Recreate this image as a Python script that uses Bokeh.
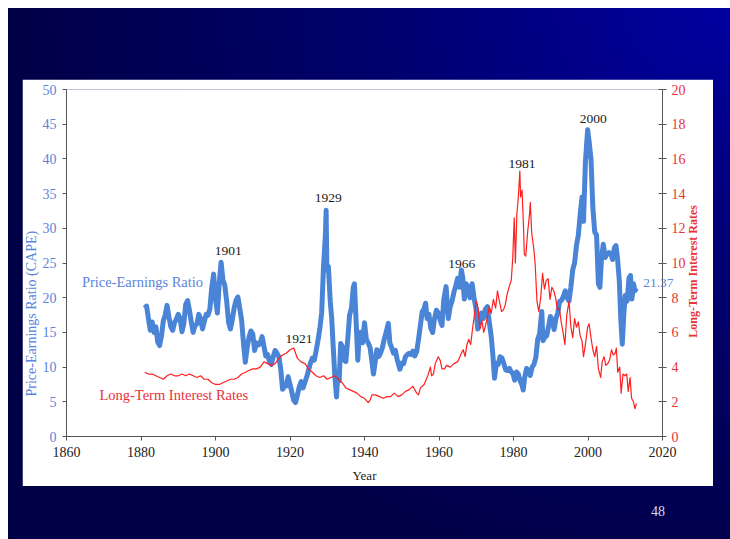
from math import pi
from bokeh.plotting import figure
from bokeh.models import Range1d, LinearAxis, FixedTicker, Label, Div, ColumnDataSource
from bokeh.layouts import column
from bokeh.embed import file_html
from bokeh.resources import INLINE

# ---------------- data ----------------
year_ticks = [1860, 1880, 1900, 1920, 1940, 1960, 1980, 2000, 2020]
pe_ticks = [0, 5, 10, 15, 20, 25, 30, 35, 40, 45, 50]
rate_ticks = [0, 2, 4, 6, 8, 10, 12, 14, 16, 18, 20]

cape_years = [
    1881.0, 1881.5, 1882.0, 1882.5, 1883.0, 1883.5, 1884.0, 1884.5, 1885.0, 1885.5,
    1886.0, 1886.5, 1887.0, 1887.5, 1888.0, 1888.5, 1889.0, 1889.5, 1890.0, 1890.5,
    1891.0, 1891.5, 1892.0, 1892.5, 1893.0, 1893.5, 1894.0, 1894.5, 1895.0, 1895.5,
    1896.0, 1896.5, 1897.0, 1897.5, 1898.0, 1898.5, 1899.0, 1899.5, 1900.0, 1900.5,
    1901.0, 1901.5, 1902.0, 1902.5, 1903.0, 1903.5, 1904.0, 1904.5, 1905.0, 1905.5,
    1906.0, 1906.5, 1907.0, 1907.5, 1908.0, 1908.5, 1909.0, 1909.5, 1910.0, 1910.5,
    1911.0, 1911.5, 1912.0, 1912.5, 1913.0, 1913.5, 1914.0, 1914.5, 1915.0, 1915.5,
    1916.0, 1916.5, 1917.0, 1917.5, 1918.0, 1918.5, 1919.0, 1919.5, 1920.0, 1920.5,
    1921.0, 1921.5, 1922.0, 1922.5, 1923.0, 1923.5, 1924.0, 1924.5, 1925.0, 1925.5,
    1926.0, 1926.5, 1927.0, 1927.5, 1928.0, 1928.5, 1929.0, 1929.5, 1929.7, 1929.9,
    1930.3, 1930.8, 1931.2, 1931.6, 1932.0, 1932.5, 1932.8, 1933.2, 1933.6, 1934.0,
    1934.5, 1935.0, 1935.5, 1936.0, 1936.5, 1937.0, 1937.3, 1937.8, 1938.2, 1938.6,
    1939.0, 1939.5, 1940.0, 1940.5, 1941.0, 1941.5, 1942.0, 1942.4, 1942.8, 1943.3,
    1943.8, 1944.3, 1944.8, 1945.3, 1945.8, 1946.4, 1946.8, 1947.3, 1947.8, 1948.3,
    1948.8, 1949.5, 1950.0, 1950.5, 1951.0, 1951.5, 1952.0, 1952.5, 1953.0, 1953.5,
    1954.0, 1954.5, 1955.0, 1955.5, 1956.0, 1956.4, 1956.8, 1957.3, 1957.8, 1958.3,
    1958.8, 1959.3, 1959.8, 1960.3, 1960.8, 1961.3, 1961.9, 1962.5, 1963.0, 1963.5,
    1964.0, 1964.5, 1965.0, 1965.5, 1966.0, 1966.4, 1966.8, 1967.3, 1967.8, 1968.3,
    1968.9, 1969.4, 1969.9, 1970.4, 1970.9, 1971.4, 1971.9, 1972.5, 1973.0, 1973.5,
    1974.0, 1974.5, 1974.9, 1975.4, 1975.9, 1976.4, 1976.9, 1977.4, 1977.9, 1978.4,
    1978.9, 1979.4, 1979.9, 1980.3, 1980.8, 1981.3, 1981.8, 1982.3, 1982.6, 1983.0,
    1983.5, 1984.0, 1984.5, 1985.0, 1985.5, 1986.0, 1986.5, 1987.0, 1987.6, 1987.9,
    1988.4, 1988.9, 1989.4, 1989.9, 1990.4, 1990.9, 1991.4, 1991.9, 1992.4, 1992.9,
    1993.4, 1993.9, 1994.4, 1994.9, 1995.4, 1995.9, 1996.4, 1996.9, 1997.4, 1997.9,
    1998.4, 1998.8, 1999.3, 1999.9, 2000.3, 2000.8, 2001.3, 2001.8, 2002.3, 2002.8,
    2003.2, 2003.6, 2004.1, 2004.6, 2005.1, 2005.6, 2006.1, 2006.6, 2007.1, 2007.5,
    2007.9, 2008.4, 2008.8, 2009.2, 2009.6, 2010.0, 2010.5, 2011.0, 2011.4, 2011.8,
    2012.2, 2012.6, 2013.0,
]
cape_values = [
    18.5, 18.8, 17.0, 15.3, 16.5, 15.0, 15.8, 13.6, 13.1, 14.5,
    16.7, 17.5, 18.9, 17.2, 15.8, 15.3, 16.4, 16.9, 17.6, 17.0,
    15.1, 16.3, 19.0, 19.6, 18.2, 16.5, 15.0, 16.0, 16.2, 17.6,
    17.0, 15.5, 16.6, 17.6, 17.5, 18.4, 21.5, 23.4, 19.8, 17.8,
    22.0, 25.1, 22.5, 21.8, 19.5, 16.5, 15.5, 16.8, 18.5, 19.6,
    20.1, 18.5, 16.8, 13.5, 10.7, 12.8, 14.3, 15.2, 14.8, 12.4,
    13.5, 13.2, 13.4, 14.4, 13.0, 11.6, 11.8, 10.8, 10.4, 11.5,
    12.4, 12.0, 11.5, 9.8, 6.8, 7.2, 7.3, 8.6, 7.5, 6.4,
    5.2, 4.9, 6.0, 7.2, 7.9, 7.0, 7.8, 8.6, 9.6, 10.6,
    11.3, 11.0, 12.3, 13.8, 15.5, 17.8, 24.5, 29.0, 32.6, 24.0,
    24.5, 19.5, 17.0, 13.0, 9.0, 5.7, 9.0, 8.0, 13.4, 13.0,
    11.0, 10.8, 14.0, 17.5, 18.5, 21.5, 22.0, 16.0, 11.0, 14.5,
    15.0, 13.5, 16.4, 14.0, 13.5, 12.8, 10.8, 9.0, 10.5, 12.5,
    11.5, 12.0, 12.8, 14.0, 15.0, 16.3, 13.5, 12.8, 12.0, 12.4,
    11.0, 9.7, 10.6, 10.5, 11.5, 11.8, 12.0, 11.8, 12.3, 11.6,
    12.2, 14.0, 16.0, 18.0, 18.4, 19.2, 17.0, 17.6, 15.6, 15.0,
    17.0, 18.2, 17.8, 16.8, 16.0, 19.8, 21.6, 17.0, 18.7, 19.5,
    20.8, 21.7, 22.8, 21.5, 24.0, 22.8, 19.8, 22.0, 21.5, 20.0,
    22.0, 20.0, 18.5, 15.5, 16.8, 17.8, 17.0, 18.4, 18.7, 16.5,
    14.5, 11.5, 8.4, 10.5, 10.4, 11.5, 11.3, 10.5, 9.6, 9.5,
    9.8, 9.3, 9.0, 8.1, 9.3, 9.0, 8.0, 7.4, 6.7, 8.5,
    9.8, 9.4, 8.8, 10.0, 10.4, 11.4, 14.0, 14.8, 18.0, 13.8,
    14.3, 14.5, 15.8, 17.3, 16.8, 15.4, 17.0, 17.8, 19.5, 19.6,
    20.2, 21.0, 20.0, 19.5, 21.5, 24.0, 25.0, 27.5, 29.0, 32.0,
    34.5, 31.0, 39.5, 44.2, 42.5, 40.0, 33.0, 29.5, 29.0, 22.0,
    21.5, 25.5, 27.7, 25.8, 26.3, 26.5, 26.4, 25.5, 27.2, 27.5,
    25.8, 22.5, 17.0, 13.3, 17.5, 20.3, 19.5, 22.8, 23.2, 19.8,
    22.0, 21.0, 21.37,
]

rate_years = [
    1881, 1882, 1883, 1884, 1885, 1886, 1887, 1888, 1889, 1890,
    1891, 1892, 1893, 1894, 1895, 1896, 1897, 1898, 1899, 1900,
    1901, 1902, 1903, 1904, 1905, 1906, 1907, 1908, 1909, 1910,
    1911, 1912, 1913, 1914, 1915, 1916, 1917, 1918, 1919, 1920,
    1921, 1922, 1923, 1924, 1925, 1926, 1927, 1928, 1929, 1930,
    1931, 1932, 1933, 1934, 1935, 1936, 1937, 1938, 1939, 1940,
    1941, 1941.5, 1942, 1943, 1944, 1945, 1946, 1947, 1948, 1949,
    1950, 1951, 1952, 1953, 1954, 1954.5, 1955, 1956, 1957, 1957.7,
    1958, 1958.5, 1959, 1959.8, 1960.3, 1960.8, 1961.5, 1962, 1963, 1964,
    1965, 1966, 1966.5, 1967, 1967.5, 1968, 1968.5, 1969, 1969.7, 1970,
    1970.5, 1971, 1971.5, 1972, 1972.5, 1973, 1973.5, 1974, 1974.6, 1975.2,
    1975.7, 1976.2, 1976.8, 1977.3, 1977.8, 1978.3, 1978.8, 1979.4, 1979.8, 1980.2,
    1980.5, 1980.9, 1981.3, 1981.7, 1981.9, 1982.3, 1982.7, 1982.9, 1983.3, 1983.8,
    1984.3, 1984.5, 1984.9, 1985.4, 1985.8, 1986.3, 1986.8, 1987.3, 1987.8, 1988.3,
    1988.8, 1989.3, 1989.8, 1990.3, 1990.8, 1991.3, 1991.8, 1992.3, 1992.8, 1993.3,
    1993.8, 1994.3, 1994.9, 1995.4, 1995.9, 1996.4, 1996.9, 1997.4, 1997.9, 1998.4,
    1998.8, 1999.3, 1999.9, 2000.3, 2000.8, 2001.3, 2001.8, 2002.3, 2002.8, 2003.4,
    2003.8, 2004.3, 2004.8, 2005.3, 2005.8, 2006.3, 2006.8, 2007.3, 2007.6, 2008.0,
    2008.5, 2008.9, 2009.4, 2009.9, 2010.4, 2010.8, 2011.3, 2011.7, 2012.2, 2012.6,
    2013.0,
]
rate_values = [
    3.7, 3.6, 3.6, 3.5, 3.4, 3.3, 3.5, 3.6, 3.5, 3.5,
    3.6, 3.5, 3.6, 3.5, 3.4, 3.5, 3.3, 3.3, 3.1, 3.0,
    3.0, 3.1, 3.2, 3.3, 3.3, 3.4, 3.6, 3.7, 3.8, 3.9,
    3.9, 4.0, 4.3, 4.2, 4.1, 4.2, 4.5, 4.7, 4.8, 5.0,
    5.1, 4.5, 4.3, 4.2, 3.9, 3.7, 3.5, 3.4, 3.5, 3.3,
    3.4, 3.5, 3.3, 3.1, 2.8, 2.7, 2.6, 2.5, 2.3, 2.2,
    1.95, 2.1, 2.4, 2.4, 2.3, 2.2, 2.3, 2.3, 2.5, 2.3,
    2.4, 2.6, 2.7, 2.9, 2.5, 2.4, 2.8, 3.0, 3.5, 4.0,
    3.5, 3.6, 4.2, 4.6, 4.4, 3.9, 3.9, 4.1, 4.0, 4.2,
    4.3, 4.8, 5.0, 4.6, 5.3, 5.6, 5.3, 6.2, 7.3, 7.8,
    7.4, 6.2, 6.7, 6.0, 6.4, 6.9, 7.5, 7.1, 7.9, 7.4,
    8.4, 7.8, 7.2, 7.3, 7.6, 8.2, 8.6, 9.0, 10.3, 12.6,
    10.0, 12.8, 13.8, 15.3, 13.8, 14.2, 12.0, 10.5, 10.4, 11.8,
    12.8, 13.5, 11.7, 10.9, 10.0, 7.8, 7.2, 8.0, 9.4, 8.5,
    9.0, 9.1, 7.9, 8.6, 8.4, 8.0, 7.3, 7.4, 6.6, 6.0,
    5.3, 7.0, 7.8, 6.3, 5.7, 6.8, 6.3, 6.6, 5.8, 5.5,
    4.6, 5.3, 6.3, 6.5, 5.7, 5.0, 4.6, 5.2, 3.9, 3.4,
    4.3, 4.6, 4.1, 4.2, 4.4, 5.0, 4.7, 4.8, 5.1, 3.7,
    4.0, 2.5, 3.6, 3.5, 3.6, 2.6, 3.4, 2.2, 2.0, 1.6,
    1.9,
]

BLUE = "#4a84d6"
BLUE_TXT = "#5a84dc"
RED = "#ff1f1f"
RED_TXT = "#e8313a"
FONT = "Liberation Serif"

# ---------------- figure ----------------
p = figure(width=691, height=407, x_range=Range1d(1860, 2020), y_range=Range1d(0, 50),
           output_backend="svg", toolbar_location=None,
           min_border_left=44, min_border_right=51, min_border_top=10, min_border_bottom=50,
           background_fill_color="white", border_fill_color="white",
           margin=(71, 0, 0, 14))
p.extra_y_ranges = {"rate": Range1d(0, 20)}
p.grid.visible = False
p.outline_line_color = None

# x axis
xa = p.xaxis[0]
xa.ticker = FixedTicker(ticks=year_ticks)
xa.minor_tick_line_color = None
xa.major_tick_in = 0
xa.major_tick_out = 4
xa.axis_line_color = "#555555"
xa.major_tick_line_color = "#555555"
xa.major_label_text_font = FONT
xa.major_label_text_font_size = "14px"
xa.major_label_text_color = "#222222"
xa.major_label_standoff = 6
xa.axis_label = "Year"
xa.axis_label_text_font = FONT
xa.axis_label_text_font_style = "normal"
xa.axis_label_text_font_size = "13px"
xa.axis_label_text_color = "#222222"
xa.axis_label_standoff = 8

# left axis
ya = p.left[0]
ya.ticker = FixedTicker(ticks=pe_ticks)
ya.minor_tick_line_color = None
ya.major_tick_in = 0
ya.major_tick_out = 4
ya.axis_line_color = "#555555"
ya.major_tick_line_color = "#555555"
ya.major_label_text_font = FONT
ya.major_label_text_font_size = "14px"
ya.major_label_text_color = BLUE_TXT
ya.major_label_standoff = 6

# right axis
ra = LinearAxis(y_range_name="rate", ticker=FixedTicker(ticks=rate_ticks))
ra.minor_tick_line_color = None
ra.major_tick_in = 4
ra.major_tick_out = 4
ra.axis_line_color = "#555555"
ra.major_tick_line_color = "#555555"
ra.major_label_text_font = FONT
ra.major_label_text_font_size = "14px"
ra.major_label_text_color = RED_TXT
ra.major_label_standoff = 5
p.add_layout(ra, "right")

# series
cape_src = ColumnDataSource(dict(x=cape_years, y=cape_values))
rate_src = ColumnDataSource(dict(x=rate_years, y=rate_values))
p.line("x", "y", source=cape_src, line_color=BLUE, line_width=5, line_join="round")
p.line("x", "y", source=rate_src, line_color=RED, line_width=1.2, line_join="round",
       y_range_name="rate")

# axis titles and end value: labels held in side panels so they are not clipped
p.add_layout(Label(x=1850.6, y=17.7, text="Price-Earnings Ratio (CAPE)", angle=pi / 2,
                   text_align="center", text_baseline="middle", text_font=FONT,
                   text_font_size="14px", text_color=BLUE_TXT), "left")
p.add_layout(Label(x=2028.2, y=23.8, text="Long-Term Interest Rates", angle=pi / 2,
                   text_align="center", text_baseline="middle", text_font=FONT,
                   text_font_size="12px", text_font_style="bold", text_color=RED_TXT), "right")
p.add_layout(Label(x=2018.9, y=22.1, text="21.37",
                   text_align="center", text_baseline="middle", text_font=FONT,
                   text_font_size="13.5px", text_color=BLUE_TXT), "above")

# annotations
ann = [("1901", 1903.4, 26.8), ("1929", 1930.3, 34.4), ("1966", 1966.1, 24.8),
       ("1981", 1982.3, 39.2), ("2000", 2001.4, 45.8), ("1921", 1922.4, 14.05)]
for t, x, y in ann:
    p.add_layout(Label(x=x, y=y, text=t, text_align="center", text_baseline="middle",
                       text_font=FONT, text_font_size="13.5px", text_color="#1a1a1a"))

p.add_layout(Label(x=1880.4, y=22.3, text="Price-Earnings Ratio", text_align="center",
                   text_baseline="middle", text_font=FONT, text_font_size="14.5px",
                   text_color=BLUE_TXT))
p.add_layout(Label(x=1888.8, y=5.98, text="Long-Term Interest Rates", text_align="center",
                   text_baseline="middle", text_font=FONT, text_font_size="14.5px",
                   text_color=RED_TXT))

num = Div(text="48", width=40, height=20, margin=(16, 0, 0, 643),
          styles={"color": "#d8d8e8", "font-family": FONT, "font-size": "14px"})

layout = column(p, num, width=722, height=531, margin=(8, 0, 0, 8),
                styles={"background": "radial-gradient(ellipse 100% 110% at 100% 0%, #0000a0 0%, #00006c 50%, #000046 100%)"})

open("out.html", "w").write(file_html(layout, INLINE))
